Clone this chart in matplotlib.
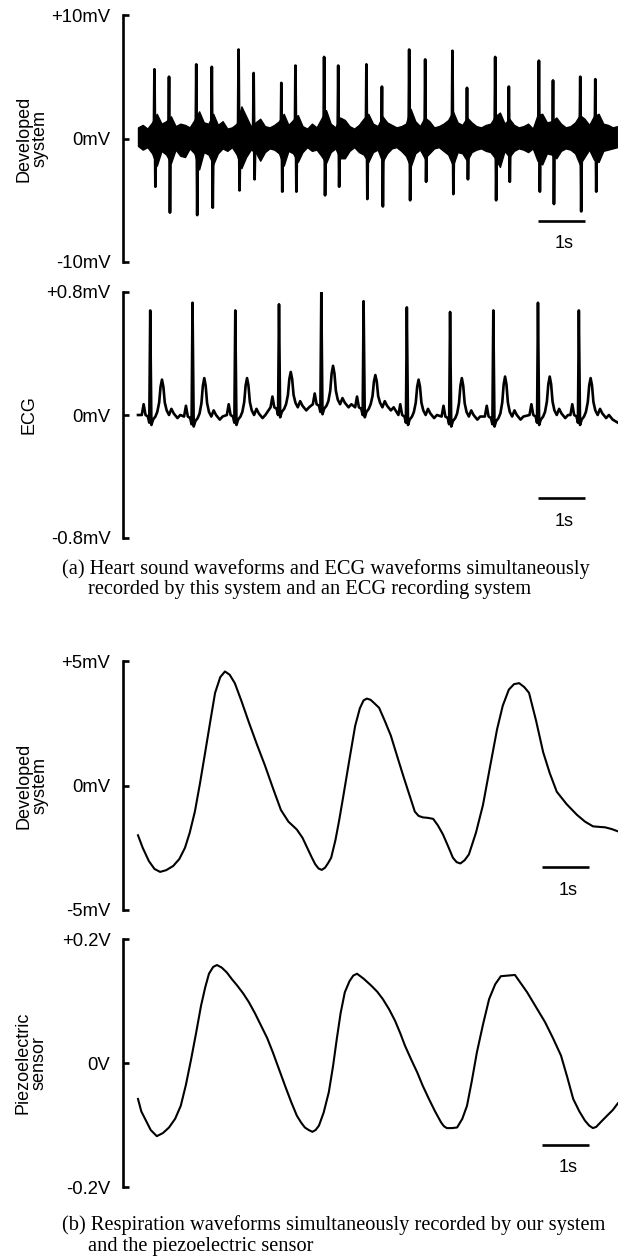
import numpy as np
import matplotlib
matplotlib.use("Agg")
import matplotlib.pyplot as plt
from matplotlib.transforms import blended_transform_factory

# ---- heart sound (developed system), mV ----
spike_t = [0.35, 0.66, 1.24, 1.57, 2.14, 2.46, 3.05, 3.35, 3.96, 4.26, 4.86,
           5.19, 5.77, 6.11, 6.69, 7.00, 7.60, 7.89, 8.53, 8.83, 9.41, 9.73]
spike_up = [5.6, 5.0, 6.0, 5.8, 7.2, 5.3, 4.5, 5.9, 6.6, 5.9, 6.0,
            4.2, 7.2, 6.4, 7.1, 4.1, 6.6, 4.2, 6.3, 4.7, 5.0, 4.8]
spike_down = [-3.9, -6.0, -6.2, -5.6, -4.2, -3.3, -4.3, -4.3, -4.6, -3.9, -4.9,
              -5.5, -5.0, -3.5, -4.5, -3.3, -5.0, -3.5, -4.3, -5.3, -5.9, -4.3]
# noise band: upper / lower swing, one pair every 0.1 s from 0 to 10.2 s
band_up = [0.9, 1.1, 0.8, 1.3, 2.0, 1.2, 1.4, 1.8, 1.0, 1.2,
           1.1, 0.9, 1.5, 2.2, 1.3, 1.2, 2.0, 1.1, 1.4, 0.8,
           0.9, 1.2, 2.6, 1.8, 1.0, 1.3, 1.6, 1.0, 0.9, 1.1,
           1.4, 2.0, 1.1, 1.5, 1.9, 1.0, 0.8, 1.2, 0.9, 1.6,
           2.3, 1.2, 0.9, 1.7, 1.5, 1.0, 0.8, 1.1, 1.6, 2.0,
           1.2, 1.0, 1.8, 1.3, 1.1, 0.9, 1.0, 1.2, 2.4, 1.4,
           1.0, 1.7, 1.4, 0.9, 1.0, 1.2, 1.5, 2.2, 1.3, 1.1,
           1.7, 1.3, 1.0, 0.9, 1.1, 1.2, 1.8, 2.1, 1.2, 1.6,
           1.1, 0.9, 1.0, 1.2, 0.8, 1.9, 2.0, 1.3, 1.4, 1.7,
           1.2, 0.9, 1.0, 1.3, 1.9, 1.6, 1.1, 1.8, 2.0, 1.2,
           1.1, 0.9, 1.0]
band_lo = [-0.6, -0.9, -0.7, -1.2, -2.2, -1.0, -1.3, -2.0, -0.9, -1.4,
           -1.5, -0.8, -1.2, -2.5, -1.1, -1.3, -2.1, -1.2, -0.8, -1.0,
           -0.7, -1.3, -2.4, -1.5, -0.9, -1.1, -1.8, -1.1, -0.8, -0.9,
           -1.2, -2.2, -1.0, -1.2, -1.9, -1.1, -0.7, -1.0, -0.9, -1.4,
           -2.0, -1.1, -0.8, -1.6, -1.6, -1.0, -0.7, -1.1, -1.3, -1.9,
           -1.1, -0.9, -1.9, -1.2, -0.8, -0.7, -1.0, -1.4, -2.3, -1.2,
           -0.9, -1.6, -1.2, -0.8, -0.7, -1.0, -1.3, -2.2, -1.1, -1.2,
           -1.8, -1.1, -0.9, -0.8, -1.0, -1.1, -1.6, -2.3, -1.0, -1.5,
           -1.0, -0.8, -0.9, -1.1, -0.8, -1.8, -2.1, -1.2, -1.3, -1.6,
           -1.0, -0.8, -0.9, -1.2, -2.1, -1.5, -0.9, -1.7, -1.9, -1.0,
           -0.9, -0.8, -0.7]

# ---- ECG, mV ----
r_t = [0.26, 1.16, 2.07, 3.00, 3.90, 4.80, 5.72, 6.64, 7.56, 8.51, 9.38]
r_amp = [0.68, 0.73, 0.68, 0.72, 0.80, 0.74, 0.70, 0.67, 0.68, 0.73, 0.68]
t_amp = [0.23, 0.24, 0.24, 0.28, 0.32, 0.26, 0.23, 0.24, 0.25, 0.25, 0.24]
ecg_base = [0.0, -0.01, 0.0, 0.05, 0.07, 0.05, 0.0, -0.01, -0.01, 0.0, 0.0]
# one beat: offset from R (s) and level above baseline;
# "R" = R peak, "Tx" = share x of the T wave height
beat_off = [-0.18, -0.14, -0.10, -0.05, -0.02, 0.0, 0.025, 0.06, 0.11,
            0.15, 0.19, 0.22, 0.25, 0.28, 0.31, 0.35, 0.40, 0.45, 0.50, 0.58, 0.64]
beat_val = [0.0, 0.07, 0.0, -0.01, -0.05, "R", -0.065, -0.03, -0.01,
            0.02, "T0.35", "T0.8", "T1.0", "T0.8", "T0.35", 0.03, 0.0, 0.04, 0.01, -0.02, 0.0]

# ---- respiration, developed system (mV) ----
resp_t = [0.0, 0.10, 0.23, 0.35, 0.47, 0.60, 0.75, 0.88, 1.00, 1.10, 1.21, 1.32,
          1.43, 1.54, 1.64, 1.75, 1.85, 1.95, 2.06, 2.20, 2.36, 2.53, 2.70, 2.87,
          3.04, 3.20, 3.38, 3.50, 3.60, 3.70, 3.77, 3.84, 3.91, 3.98, 4.05, 4.11,
          4.20, 4.28, 4.36, 4.49, 4.62, 4.72, 4.80, 4.87, 4.95, 5.03, 5.13, 5.25,
          5.38, 5.51, 5.64, 5.77, 5.89, 5.97, 6.06, 6.17, 6.28, 6.38, 6.49, 6.60,
          6.70, 6.78, 6.86, 6.95, 7.04, 7.19, 7.34, 7.49, 7.64, 7.76, 7.89, 8.00,
          8.11, 8.22, 8.32, 8.47, 8.62, 8.76, 8.91, 9.12, 9.34, 9.51, 9.68, 9.80,
          9.94, 10.08, 10.21]
resp_v = [-2.0, -2.5, -3.03, -3.35, -3.47, -3.4, -3.23, -2.95, -2.5, -1.9, -1.05, 0.1,
          1.34, 2.6, 3.72, 4.35, 4.58, 4.45, 4.11, 3.4, 2.53, 1.65, 0.81, -0.1,
          -0.98, -1.45, -1.77, -2.1, -2.5, -2.9, -3.16, -3.33, -3.39, -3.3, -3.1, -2.9,
          -2.2, -1.4, -0.52, 0.95, 2.39, 3.1, 3.42, 3.49, 3.44, 3.3, 3.12, 2.6,
          2.0, 1.2, 0.41, -0.35, -1.05, -1.22, -1.28, -1.30, -1.34, -1.6, -1.97, -2.45,
          -2.9, -3.08, -3.13, -3.0, -2.77, -1.9, -0.78, 0.75, 2.26, 3.2, 3.85, 4.07,
          4.11, 3.95, 3.72, 2.6, 1.34, 0.5, -0.25, -0.75, -1.18, -1.45, -1.64, -1.66,
          -1.68, -1.75, -1.84]

# ---- respiration, piezoelectric sensor (V) ----
piezo_t = [0.0, 0.07, 0.15, 0.27, 0.40, 0.53, 0.66, 0.79, 0.91, 1.02, 1.13, 1.24,
           1.34, 1.43, 1.51, 1.60, 1.68, 1.78, 1.89, 2.00, 2.11, 2.24, 2.36, 2.49,
           2.62, 2.75, 2.87, 3.00, 3.13, 3.26, 3.38, 3.47, 3.55, 3.63, 3.71, 3.78,
           3.85, 3.95, 4.06, 4.15, 4.23, 4.31, 4.40, 4.50, 4.58, 4.66, 4.80, 4.96,
           5.09, 5.21, 5.34, 5.47, 5.58, 5.68, 5.81, 5.94, 6.06, 6.19, 6.32, 6.45,
           6.51, 6.57, 6.68, 6.79, 6.90, 7.00, 7.10, 7.21, 7.34, 7.47, 7.60, 7.72,
           7.87, 8.02, 8.15, 8.28, 8.47, 8.66, 8.83, 9.00, 9.13, 9.26, 9.39, 9.51,
           9.60, 9.68, 9.75, 9.85, 9.98, 10.10, 10.21]
piezo_v = [-0.058, -0.078, -0.090, -0.108, -0.118, -0.113, -0.104, -0.090, -0.069,
           -0.035, 0.006, 0.050, 0.092, 0.122, 0.144, 0.155, 0.158, 0.154, 0.146,
           0.135, 0.125, 0.112, 0.098, 0.080, 0.060, 0.040, 0.017, -0.010, -0.037,
           -0.063, -0.085, -0.096, -0.104, -0.108, -0.111, -0.108, -0.101, -0.080,
           -0.047, -0.005, 0.039, 0.080, 0.114, 0.132, 0.141, 0.144, 0.136, 0.125,
           0.115, 0.103, 0.087, 0.068, 0.048, 0.028, 0.006, -0.015, -0.037, -0.058,
           -0.078, -0.096, -0.102, -0.105, -0.105, -0.104, -0.090, -0.069, -0.030,
           0.017, 0.062, 0.103, 0.127, 0.140, 0.141, 0.142, 0.128, 0.114, 0.090,
           0.066, 0.040, 0.012, -0.022, -0.058, -0.078, -0.093, -0.101, -0.105,
           -0.103, -0.095, -0.085, -0.076, -0.065]

W, H = 618, 1259
fig = plt.figure(figsize=(W / 100, H / 100), dpi=100)
SANS = "Liberation Sans"
SERIF = "Liberation Serif"
LEFT = 123
X0, X1 = -15 / 47, (618 - 138) / 47


def make_axes(top, bottom, lim, ticks, labels, ylabel, label_x):
    ax = fig.add_axes([LEFT / W, 1 - bottom / H, (W - LEFT) / W, (bottom - top) / H])
    ax.set_xlim(X0, X1)
    ax.set_ylim(-lim, lim)
    for s in ["top", "right", "bottom"]:
        ax.spines[s].set_visible(False)
    ax.spines["left"].set_linewidth(1.9)
    ax.set_xticks([])
    ax.set_yticks(ticks)
    ax.set_yticklabels(labels, fontfamily=SANS, fontsize=13.3)
    ax.tick_params(axis="y", direction="in", length=4.5, width=1.9, pad=9)
    tr = blended_transform_factory(fig.transFigure, ax.transData)
    ax.text(label_x / W, 0, ylabel, transform=tr, rotation=90, ha="center",
            va="center", fontfamily=SANS, fontsize=13, linespacing=0.95)
    return ax


def scale_bar(ax, t0, ybar, ytxt):
    ax.plot([t0, t0 + 1], [ybar, ybar], color="black", lw=1.9, solid_capstyle="butt")
    ax.text(t0 + 0.55, ytxt, "1s", ha="center", va="center", fontfamily=SANS, fontsize=13)


# panel 1: heart sound
ax1 = make_axes(15, 262, 10, [-10, 0, 10], ["-10mV", "0mV", "+10mV"],
                "Developed\nsystem", 32)
grid = np.arange(len(band_up)) * 0.1
ax1.fill_between(grid, band_lo, band_up, color="black", lw=1.0)
for t, up, dn in zip(spike_t, spike_up, spike_down):
    ax1.plot([t - 0.012, t, t + 0.02, t + 0.035], [0, up, dn, 0], color="black", lw=2.0)
scale_bar(ax1, 8.51, -6.7, -8.5)

# panel 2: ECG
ax2 = make_axes(292, 538, 0.8, [-0.8, 0, 0.8], ["-0.8mV", "0mV", "+0.8mV"], "ECG", 29)
ex, ey = [0.0], [0.0]
for rt, ra, ta, b in zip(r_t, r_amp, t_amp, ecg_base):
    for off, val in zip(beat_off, beat_val):
        if val == "R":
            v = ra
        elif isinstance(val, str):
            v = b + (ta - b) * float(val[1:])
        else:
            v = b + val
        ex.append(rt + off)
        ey.append(v)
ex += [10.1, 10.21]
ey += [-0.03, -0.05]
ax2.plot(ex, ey, color="black", lw=1.9)
scale_bar(ax2, 8.51, -0.54, -0.69)

# panel 3: respiration, developed system
ax3 = make_axes(661, 910, 5, [-5, 0, 5], ["-5mV", "0mV", "+5mV"], "Developed\nsystem", 32)
ax3.plot(resp_t, resp_v, color="black", lw=1.5)
scale_bar(ax3, 8.6, -3.27, -4.2)

# panel 4: piezoelectric sensor
ax4 = make_axes(939, 1187, 0.2, [-0.2, 0, 0.2], ["-0.2V", "0V", "+0.2V"],
                "Piezoelectric\nsensor", 31)
ax4.plot(piezo_t, piezo_v, color="black", lw=1.5)
scale_bar(ax4, 8.6, -0.133, -0.169)

# captions
cap = dict(fontfamily=SERIF, fontsize=14.7, ha="left", va="center")
fig.text(62 / W, 1 - 569 / H, "(a) Heart sound waveforms and ECG waveforms simultaneously", **cap)
fig.text(88 / W, 1 - 589 / H, "recorded by this system and an ECG recording system", **cap)
fig.text(62 / W, 1 - 1225 / H, "(b) Respiration waveforms simultaneously recorded by our system", **cap)
fig.text(88 / W, 1 - 1246 / H, "and the piezoelectric sensor", **cap)

fig.savefig("out.png", dpi=100)
